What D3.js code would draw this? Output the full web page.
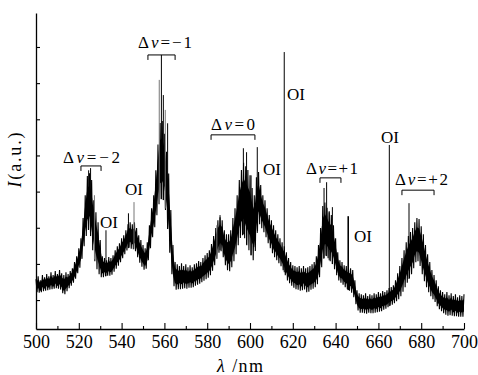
<!DOCTYPE html>
<html><head><meta charset="utf-8">
<script src="https://cdn.jsdelivr.net/npm/d3@7"></script>
<style>
body{margin:0;background:#fff}
svg{display:block}
</style>
</head><body>
<svg id="c" width="478" height="375"></svg>
<script>
// ---- data (intensity in arbitrary units, one sample per nm from 500 nm) ----
const lambdaStart = 500;
const upper = [
1.58,1.66,1.55,1.69,1.63,1.72,1.66,1.77,1.69,1.80,
1.72,1.83,1.74,1.69,1.77,1.72,1.80,1.88,2.05,2.21,
2.43,2.71,3.27,3.90,4.43,4.51,4.32,3.76,3.43,3.15,
2.66,2.21,2.16,2.10,2.19,2.16,2.24,2.38,2.49,2.57,
2.71,2.79,2.93,3.10,3.15,3.10,3.15,2.99,2.79,2.66,
2.52,2.43,2.60,3.07,3.54,3.90,4.59,5.30,5.90,5.95,
5.60,5.10,4.50,3.49,2.52,2.05,1.99,1.94,2.02,1.94,
1.99,1.91,1.96,1.91,1.99,2.02,2.08,2.05,2.16,2.24,
2.30,2.38,2.55,2.77,2.99,3.21,3.29,3.21,2.93,2.82,
2.82,2.93,3.27,3.54,3.90,4.32,4.60,4.80,4.70,4.60,
4.45,4.10,3.90,4.40,4.54,4.18,3.90,3.76,3.54,3.35,
3.21,3.07,2.93,2.82,2.71,2.60,2.49,2.32,2.16,2.05,
1.96,1.94,1.91,1.94,1.88,1.94,1.88,1.91,1.94,1.99,
2.05,2.21,2.52,2.99,3.60,3.70,3.55,3.43,3.35,3.07,
2.71,2.32,2.10,2.05,1.96,1.94,1.88,1.88,1.83,1.55,
1.27,1.19,1.16,1.13,1.19,1.11,1.16,1.13,1.19,1.16,
1.22,1.19,1.25,1.22,1.27,1.33,1.36,1.41,1.55,1.74,
1.94,2.16,2.38,2.60,2.77,2.88,2.99,3.15,3.27,3.24,
3.04,2.82,2.52,2.27,2.05,1.83,1.69,1.55,1.38,1.27,
1.22,1.16,1.22,1.13,1.19,1.11,1.16,1.08,1.13,1.11,
1.16];
const lower = [
1.19,1.25,1.16,1.27,1.22,1.30,1.25,1.33,1.27,1.36,
1.30,1.33,1.25,1.13,1.19,1.30,1.36,1.44,1.52,1.66,
1.83,1.96,2.32,2.66,2.88,2.99,2.55,2.21,1.94,1.77,
1.66,1.60,1.66,1.66,1.69,1.66,1.74,1.83,1.91,1.99,
2.10,2.21,2.32,2.43,2.46,2.38,2.43,2.27,2.10,1.96,
1.88,1.80,1.94,2.27,2.60,2.88,3.15,3.54,3.76,3.82,
3.71,3.27,2.66,1.96,1.47,1.30,1.27,1.33,1.27,1.36,
1.30,1.33,1.36,1.33,1.38,1.41,1.44,1.47,1.52,1.55,
1.60,1.63,1.74,1.88,2.05,2.24,2.38,2.32,2.05,1.88,
1.77,1.83,1.99,2.16,2.38,2.66,2.77,2.82,2.60,2.43,
2.32,2.16,2.05,2.66,3.15,3.04,2.93,2.82,2.66,2.49,
2.38,2.21,2.16,2.05,1.99,1.88,1.77,1.60,1.49,1.44,
1.36,1.33,1.27,1.30,1.22,1.33,1.25,1.19,1.27,1.30,
1.33,1.38,1.49,1.77,2.05,2.24,2.21,2.10,2.05,1.94,
1.77,1.60,1.49,1.47,1.38,1.33,1.27,1.25,1.16,1.00,
0.77,0.66,0.64,0.66,0.61,0.64,0.66,0.61,0.66,0.64,
0.69,0.66,0.72,0.75,0.77,0.83,0.86,0.89,0.94,1.00,
1.05,1.16,1.30,1.41,1.55,1.66,1.77,1.99,2.10,2.05,
1.83,1.60,1.44,1.27,1.16,1.05,1.00,0.89,0.77,0.72,
0.66,0.61,0.58,0.55,0.61,0.53,0.58,0.53,0.55,0.53,
0.55];
// narrow emission lines: wavelength (nm) and peak intensity
const lineNm  = [524.6,525.5,527.3,532.7,543.2,545.8,557.6,558.6,559.5,560.4,561.5,584.5,586.0,596.9,598.4,600.5,603.4,616.0,634.6,635.8,637.0,638.5,645.9,665.1,674.3];
const lineTop = [4.59, 4.65, 3.90, 2.93, 3.40, 3.71, 7.09, 7.78, 6.67, 6.26, 5.89, 3.07, 3.35, 5.20, 5.09, 4.45, 5.23, 7.86, 4.10, 4.26, 3.46, 3.57, 3.32, 5.29, 3.68];
const xTicks = [500,520,540,560,580,600,620,640,660,680,700];
const xMinor = [510,530,550,570,590,610,630,650,670,690];
const yTicks = [1,2,3,4,5,6,7,8];
const bandLabels = ["\u22122","\u22121","0","+1","+2"];
const bandFrom = [521.0,552.3,581.8,632.7,671.0];
const bandTo   = [530.4,565.0,602.3,642.5,686.0];
const oiNm = [532.7,545.8,604.0,616.0,645.9,665.1];

// ---- layout / style ----
const svg = d3.select("#c");
const x = d3.scaleLinear().domain([500,700]).range([36,464]);
const y = d3.scaleLinear().domain([0.2,8.94]).range([329,13]);
const FONT = "Liberation Serif";
const faint = new Set([545.8,557.6,560.4,527.3,584.5]);

// solid core of the noisy band
const idx = d3.range(upper.length);
const core = d3.area()
  .x(i => x(lambdaStart + i))
  .y0(i => y(lower[i] + 0.22*(upper[i]-lower[i])))
  .y1(i => y(upper[i] - 0.22*(upper[i]-lower[i])));
svg.append("path").datum(idx).attr("d", core).attr("fill","#000");

// noise envelope drawn as a dense zig-zag between the envelopes
function lowAt(nm){
  const t = nm - lambdaStart, i = Math.floor(t), f = t - i;
  return lower[i]*(1-f) + lower[Math.min(i+1,lower.length-1)]*f;
}
const zz = [];
idx.forEach(i => {
  zz.push([x(lambdaStart+i), y(upper[i])]);
  if (i < upper.length-1) zz.push([x(lambdaStart+i+0.5), y(lowAt(lambdaStart+i+0.5))]);
});
svg.append("path").attr("d", d3.line()(zz))
  .attr("fill","none").attr("stroke","#000").attr("stroke-width",1.1);

svg.append("g").selectAll("line").data(lineNm).join("line")
  .attr("x1", d => x(d)).attr("x2", d => x(d))
  .attr("y1", d => y(lowAt(d)))
  .attr("y2", (d,i) => y(lineTop[i]))
  .attr("stroke", d => faint.has(d) ? "#777" : "#000")
  .attr("stroke-width", d => d===645.9 ? 1.6 : 1);

// axes
const gx = svg.append("g").attr("transform","translate(0,329)")
  .call(d3.axisBottom(x).tickValues(xTicks).tickSizeInner(-6).tickSizeOuter(0).tickPadding(6).tickFormat(d3.format("d")));
svg.append("g").attr("transform","translate(0,329)")
  .call(d3.axisBottom(x).tickValues(xMinor).tickSizeInner(-3).tickSizeOuter(0).tickFormat(""))
  .call(g => g.select(".domain").remove());
svg.append("g").attr("transform","translate(36,0)")
  .call(d3.axisLeft(y).tickValues(yTicks).tickSizeInner(-4).tickSizeOuter(0).tickFormat(""));
svg.selectAll(".domain").attr("stroke","#000").attr("stroke-width",1.3);
svg.selectAll(".tick line").attr("stroke","#000").attr("stroke-width",1.1);
gx.selectAll("text").style("font-family",FONT).attr("font-size",18).attr("fill","#000");

// axis titles
const xt = svg.append("text").attr("x",240).attr("y",372).attr("text-anchor","middle")
  .style("font-family",FONT).attr("font-size",18).attr("textLength",46).attr("lengthAdjust","spacing");
xt.append("tspan").attr("font-style","italic").text("\u03bb");
xt.append("tspan").text(" /nm");
const yt = svg.append("text").attr("transform","translate(21,160) rotate(-90)")
  .style("font-family",FONT).attr("text-anchor","middle").attr("font-size",18).attr("textLength",55).attr("lengthAdjust","spacing");
yt.append("tspan").attr("font-style","italic").text("I");
yt.append("tspan").text("(a.u.)");

// vibrational band brackets and labels
const bracketV = [4.71,7.78,5.57,4.38,4.04];
const labelX = [512.6,547.7,581.8,626.2,667.8];
const labelV = [4.79,7.97,5.70,4.49,4.18];
const labelW = [57,54,44,52,53];
bandLabels.forEach((lab,i) => {
  const yb = y(bracketV[i]);
  svg.append("path")
    .attr("d", `M${x(bandFrom[i])},${yb+5}V${yb}H${x(bandTo[i])}V${yb+5}`)
    .attr("fill","none").attr("stroke","#000").attr("stroke-width",1);
  const t = svg.append("text").attr("x",x(labelX[i])).attr("y",y(labelV[i]))
    .style("font-family",FONT).attr("font-size",17).attr("textLength",labelW[i]).attr("lengthAdjust","spacing");
  t.append("tspan").text("\u0394");
  t.append("tspan").attr("font-style","italic").text("\u03bd");
  t.append("tspan").text("=" + lab);
});

// OI labels
const oiX = [529.9,541.6,606.1,617.3,648.6,661.2];
const oiV = [2.99,3.90,4.46,6.53,2.60,5.35];
oiNm.forEach((nm,i) => {
  svg.append("text").attr("x",x(oiX[i])).attr("y",y(oiV[i]))
    .style("font-family",FONT).attr("font-size",17).text("OI");
});
</script>
</body></html>
